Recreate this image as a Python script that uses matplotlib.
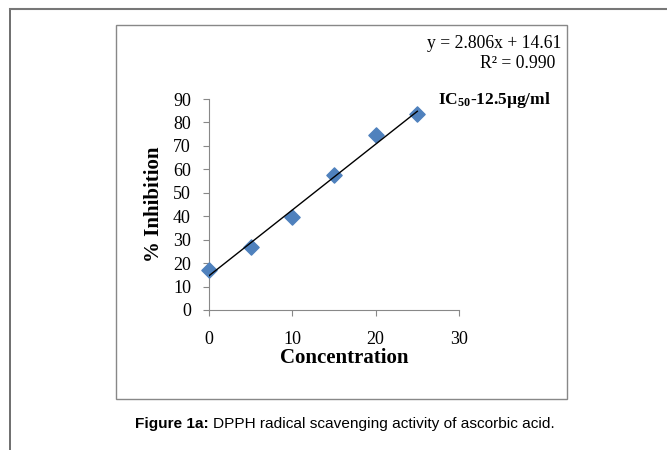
import numpy as np
import matplotlib
matplotlib.use("Agg")
import matplotlib.pyplot as plt
from matplotlib.patches import Rectangle
from matplotlib.lines import Line2D

concentration = [0, 5, 10, 15, 20, 25]
inhibition = [17.0, 27.0, 39.5, 57.5, 74.5, 83.5]
slope, intercept = 2.806, 14.61
xticks = [0, 10, 20, 30]
yticks = list(range(0, 91, 10))

plt.rcParams["mathtext.fontset"] = "custom"
plt.rcParams["mathtext.rm"] = "Liberation Serif"
plt.rcParams["mathtext.bf"] = "Liberation Serif:bold"

fig = plt.figure(figsize=(6.67, 4.5), dpi=100)
fig.patch.set_facecolor("white")

# outer page frame lines
fig.add_artist(Line2D([10/667, 10/667], [0, 1 - 9/450], transform=fig.transFigure, color="#555555", lw=1.2))
fig.add_artist(Line2D([10/667, 1], [1 - 9/450, 1 - 9/450], transform=fig.transFigure, color="#777777", lw=1.5))
# chart box
fig.add_artist(Rectangle((116/667, 1 - 399/450), (567 - 116)/667, (399 - 25)/450,
                         transform=fig.transFigure, fill=False, edgecolor="#888888", lw=1.0))

ax = fig.add_axes([209/667, 1 - 310/450, (459 - 209)/667, (310 - 99)/450])
serif = "Liberation Serif"
ax.scatter(concentration, inhibition, marker="D", s=60, color="#4F81BD", zorder=3, clip_on=False)
xs = np.array([min(concentration), max(concentration)])
ax.plot(xs, slope * xs + intercept, color="black", lw=1.0, zorder=4)

ax.set_xlim(0, 30)
ax.set_ylim(0, 90)
ax.set_xticks(xticks)
ax.set_yticks(yticks)
for s in ["top", "right"]:
    ax.spines[s].set_visible(False)
for s in ["left", "bottom"]:
    ax.spines[s].set_color("#888888")
ax.tick_params(axis="both", direction="out", length=4, color="#888888", labelsize=13)
ax.tick_params(axis="x", pad=11)
ax.tick_params(axis="y", pad=9)
for lab in ax.get_xticklabels() + ax.get_yticklabels():
    lab.set_fontfamily(serif)

ax.set_xlabel("Concentration", fontfamily=serif, fontweight="bold", fontsize=15)
ax.xaxis.set_label_coords((344 - 209) / 250, -(358 - 310) / 211)
ax.xaxis.label.set_va("center")
ax.set_ylabel("% Inhibition", fontfamily=serif, fontweight="bold", fontsize=15)
ax.yaxis.set_label_coords(-(209 - 154) / 250, 0.5)
ax.yaxis.label.set_va("center")

fig.text(561/667, 1 - 43/450, "y = 2.806x + 14.61", ha="right", va="center", fontfamily=serif, fontsize=12.7)
fig.text(518/667, 1 - 63/450, "R² = 0.990", ha="center", va="center", fontfamily=serif, fontsize=12.7)
fig.text(438/667, 1 - 100/450, r"$\mathbf{IC_{50}}$-12.5µg/ml", ha="left", va="center",
         fontfamily=serif, fontweight="bold", fontsize=12.5)

# caption: bold part + regular part
cap_y = 1 - 424/450
t_bold = fig.text(135/667, cap_y, "Figure 1a:", ha="left", va="center",
                  fontfamily="Liberation Sans", fontweight="bold", fontsize=11.1)
fig.canvas.draw()
bb = t_bold.get_window_extent()
fig.text((bb.x1 + 4) / fig.bbox.width, cap_y, "DPPH radical scavenging activity of ascorbic acid.",
         ha="left", va="center", fontfamily="Liberation Sans", fontsize=11.1)

fig.savefig("out.png", dpi=100, facecolor="white")
